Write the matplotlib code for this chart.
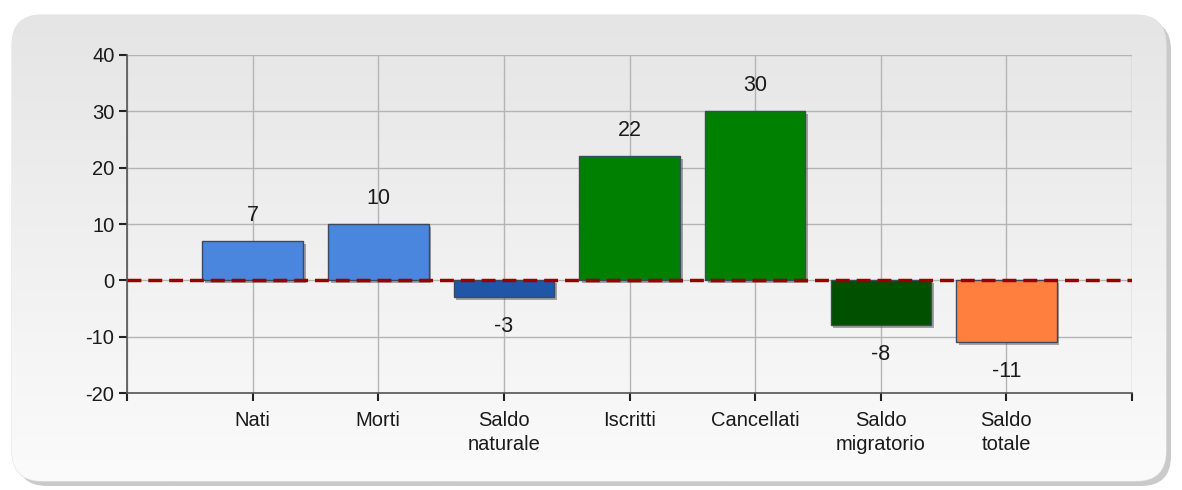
import numpy as np
import matplotlib.pyplot as plt
from matplotlib.patches import FancyBboxPatch
from matplotlib.colors import LinearSegmentedColormap
import matplotlib.patheffects as pe

# dati
categorie = ["Nati", "Morti", "Saldo\nnaturale", "Iscritti", "Cancellati",
             "Saldo\nmigratorio", "Saldo\ntotale"]
valori = [7, 10, -3, 22, 30, -8, -11]
colori = ["#4a86de", "#4a86de", "#1f56a8", "#008000", "#008000",
          "#005000", "#ff7f3f"]

plt.rcParams['font.family'] = ['Liberation Sans', 'DejaVu Sans']
plt.rcParams['axes.unicode_minus'] = False

W, H = 1182, 490
fig = plt.figure(figsize=(W / 100, H / 100), dpi=100)
fig.patch.set_facecolor("white")

# pannello di sfondo con angoli arrotondati e ombra
bg = fig.add_axes([0, 0, 1, 1])
bg.set_xlim(0, W)
bg.set_ylim(H, 0)
bg.axis("off")
x0, y0, x1, y1 = 12, 15, 1166, 481
ombra = FancyBboxPatch((x0 + 5, y0 + 5), x1 - x0, y1 - y0,
                       boxstyle="round,pad=0,rounding_size=30",
                       fc="#b4b4b4", ec="none", alpha=0.7, zorder=0.1)
bg.add_patch(ombra)
pannello = FancyBboxPatch((x0, y0), x1 - x0, y1 - y0,
                          boxstyle="round,pad=0,rounding_size=30",
                          fc="#f0f0f0", ec="#e2e2e2", lw=0.8, zorder=0.2)
bg.add_patch(pannello)
grad = np.linspace(0, 1, 256).reshape(-1, 1)
cmap = LinearSegmentedColormap.from_list("g", ["#e5e5e5", "#fbfbfb"])
img = bg.imshow(grad, extent=(x0, x1, y1, y0), cmap=cmap, aspect="auto", zorder=0.3)
img.set_clip_path(pannello)

# grafico
ax = fig.add_axes([127 / W, 97 / H, 1005 / W, 338 / H])
ax.patch.set_alpha(0)
x = np.arange(len(categorie))
barre = ax.bar(x, valori, width=0.8, color=colori, edgecolor="#3a4a60",
               linewidth=1, zorder=3)
for b in barre:
    b.set_path_effects([pe.SimplePatchShadow(offset=(2, -2), shadow_rgbFace="#555555", alpha=0.5),
                        pe.Normal()])

ax.axhline(0, color="#990000", lw=2.5, ls=(0, (4, 2)), zorder=4)

for xi, v in zip(x, valori):
    off = 2.7 if v > 0 else -3.3
    ax.text(xi, v + off, str(v), ha="center", va="bottom" if v > 0 else "top",
            fontsize=15.5, color="#1a1a1a", zorder=5)

ax.set_xlim(-1, 7)
ax.set_ylim(-20, 40)
ax.set_yticks([-20, -10, 0, 10, 20, 30, 40])
ax.set_xticks(np.arange(-1, 8))
ax.set_xticklabels([""] + categorie + [""], fontsize=14.5, color="#1a1a1a",
                   linespacing=1.3)
ax.tick_params(axis="y", labelsize=14.5, labelcolor="#1a1a1a", length=6, width=1.5,
               color="#222222", direction="out", pad=3)
ax.tick_params(axis="x", length=6, width=1.5, color="#222222", direction="out", pad=7)
ax.grid(True, color="#b4b4b4", lw=1, zorder=1)
for s in ["top", "right"]:
    ax.spines[s].set_visible(False)
ax.spines["left"].set_color("#555555")
ax.spines["bottom"].set_color("#555555")
ax.spines["left"].set_linewidth(1.2)
ax.spines["bottom"].set_linewidth(1.2)

plt.savefig("out.png", dpi=100)
